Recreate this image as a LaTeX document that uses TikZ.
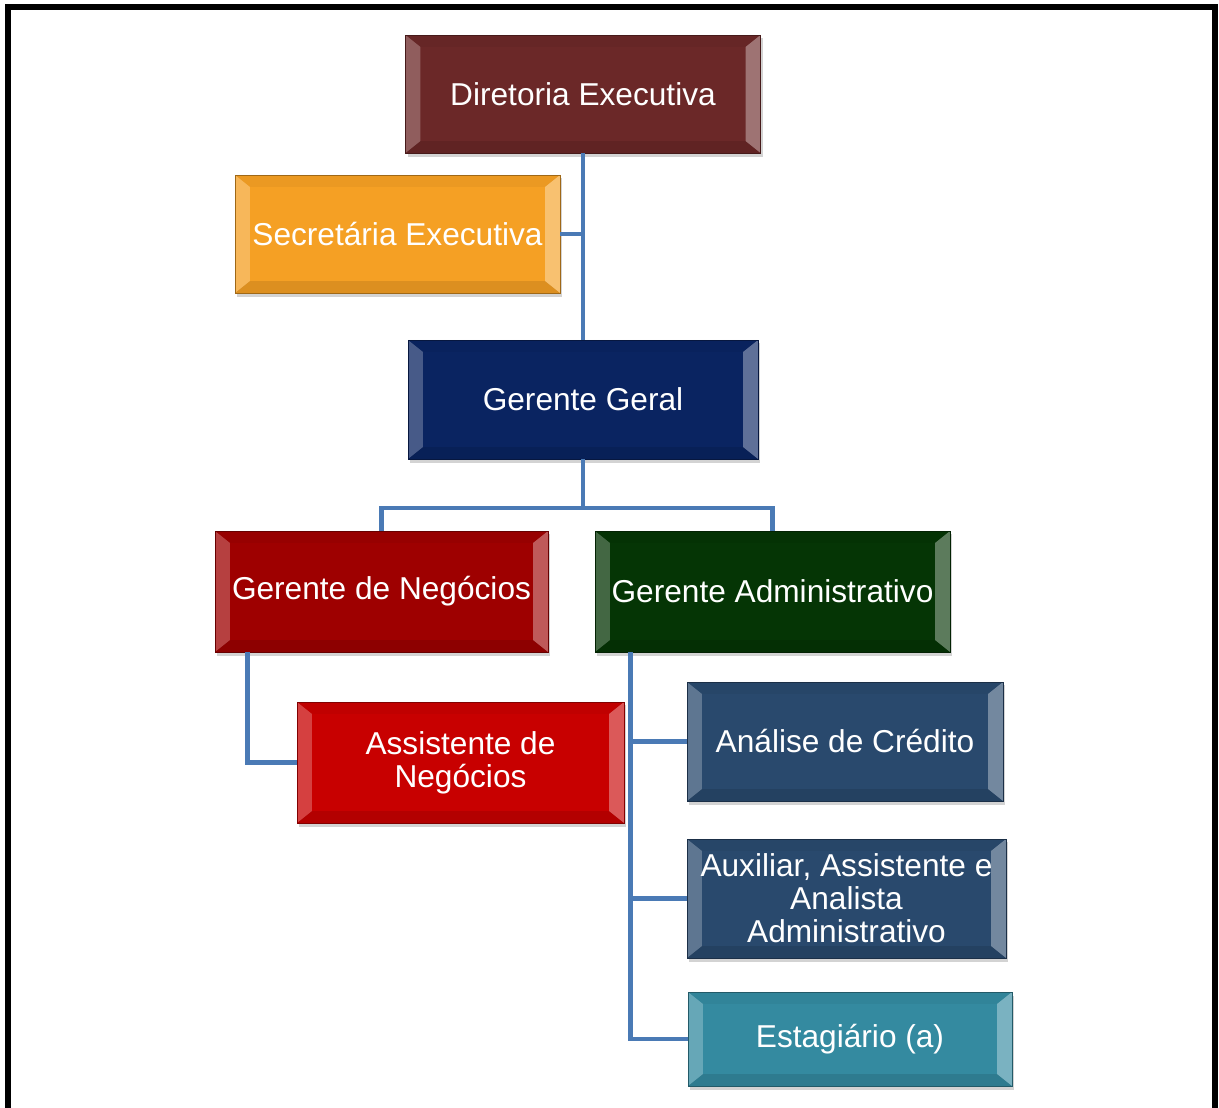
\documentclass[tikz,border=0pt]{standalone}
\usepackage{fontspec}
\setmainfont{Liberation Sans}
\usetikzlibrary{shadows}
\definecolor{diretoria}{HTML}{6B2828}
\definecolor{secretaria}{HTML}{F5A024}
\definecolor{geral}{HTML}{0A2461}
\definecolor{negocios}{HTML}{9E0000}
\definecolor{admin}{HTML}{053505}
\definecolor{assist}{HTML}{C80000}
\definecolor{ardosia}{HTML}{29496D}
\definecolor{estagio}{HTML}{348AA0}
\definecolor{linha}{HTML}{4A7AB5}
\tikzset{
  cargo/.style={rectangle, fill=#1, draw=#1!65!black, line width=0.6pt,
    text=white, align=center, inner sep=1pt,
    font=\fontsize{22.5}{23.5}\selectfont,
    drop shadow={opacity=.35, shadow xshift=1.5pt, shadow yshift=-2.5pt},
    path picture={
      \fill[white, opacity=.25] (path picture bounding box.north west)
        -- ([shift={(0.375cm,-0.3cm)}]path picture bounding box.north west)
        -- ([shift={(0.375cm,0.3cm)}]path picture bounding box.south west)
        -- (path picture bounding box.south west) -- cycle;
      \fill[white, opacity=.35] (path picture bounding box.north east)
        -- ([shift={(-0.375cm,-0.3cm)}]path picture bounding box.north east)
        -- ([shift={(-0.375cm,0.3cm)}]path picture bounding box.south east)
        -- (path picture bounding box.south east) -- cycle;
      \fill[black, opacity=.1] (path picture bounding box.south west)
        -- ([shift={(0.375cm,0.3cm)}]path picture bounding box.south west)
        -- ([shift={(-0.375cm,0.3cm)}]path picture bounding box.south east)
        -- (path picture bounding box.south east) -- cycle;
      \fill[black, opacity=.04] (path picture bounding box.north west)
        -- ([shift={(0.375cm,-0.3cm)}]path picture bounding box.north west)
        -- ([shift={(-0.375cm,-0.3cm)}]path picture bounding box.north east)
        -- (path picture bounding box.north east) -- cycle;
    }},
  liga/.style={draw=linha, line width=3pt}
}
\begin{document}
\begin{tikzpicture}[x=0.025cm, y=-0.025cm]
  \useasboundingbox (0,0) rectangle (1219,1108);
  \draw[line width=3.6pt, line join=miter] (8,1120) -- (8,7) -- (1215,7) -- (1215,1120);

  \node[cargo=diretoria, minimum width=8.875cm, minimum height=2.95cm] (dir) at (583,94) {Diretoria Executiva};
  \node[cargo=secretaria, minimum width=8.125cm, minimum height=2.95cm] (sec) at (397.5,234) {Secretária Executiva};
  \node[cargo=geral, minimum width=8.75cm, minimum height=2.975cm] (ger) at (583,399.5) {Gerente Geral};
  \node[cargo=negocios, minimum width=8.325cm, minimum height=3.025cm] (neg) at (381.5,591.5) {Gerente de Negócios};
  \node[cargo=admin, minimum width=8.875cm, minimum height=3.025cm] (adm) at (772.5,591.5) {Gerente Administrativo};
  \node[cargo=assist, minimum width=8.175cm, minimum height=3.025cm] (ass) at (460.5,762.5) {Assistente de\\Negócios};
  \node[cargo=ardosia, minimum width=7.9cm, minimum height=2.975cm] (cred) at (845,741.5) {Análise de Crédito};
  \node[cargo=ardosia, minimum width=7.975cm, minimum height=2.975cm] (aux) at (846.5,898.5) {Auxiliar, Assistente e\\Analista\\Administrativo};
  \node[cargo=estagio, minimum width=8.1cm, minimum height=2.35cm] (est) at (850,1039) {Estagiário (a)};
  \coordinate (hub) at (583,508);

  \draw[liga] (dir) -- (ger);
  \draw[liga] (sec.east) -- (sec.east -| dir.south);
  \draw[liga] (ger) -- (hub);
  \draw[liga] (hub) -| (neg);
  \draw[liga] (hub) -| (adm);
  \draw[liga] ([xshift=0.825cm]neg.south west) |- (ass);
  \draw[liga] ([xshift=0.9cm]adm.south west) |- (cred);
  \draw[liga] ([xshift=0.9cm]adm.south west) |- (aux);
  \draw[liga] ([xshift=0.9cm]adm.south west) |- (est);
\end{tikzpicture}
\end{document}
